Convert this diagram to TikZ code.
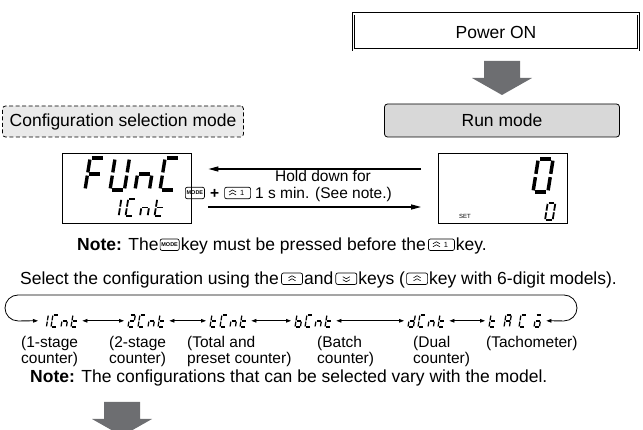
\documentclass[tikz,border=0pt]{standalone}
\usepackage{fontspec}
\setmainfont{Liberation Sans}
\usetikzlibrary{positioning,arrows.meta}
\definecolor{mygrayarrow}{RGB}{109,110,113}
\definecolor{myrunfill}{RGB}{216,216,216}
\definecolor{mycfgfill}{RGB}{234,234,234}

% segments of a seven-segment character, cell 1 wide and 2 high
\def\sga{\draw (0.12,2) -- (0.88,2);}
\def\sgb{\draw (1,1.9) -- (1,1.1);}
\def\sgc{\draw (1,0.9) -- (1,0.1);}
\def\sgd{\draw (0.12,0) -- (0.88,0);}
\def\sge{\draw (0,0.9) -- (0,0.1);}
\def\sgf{\draw (0,1.9) -- (0,1.1);}
\def\sgg{\draw (0.12,1) -- (0.88,1);}
\newcommand{\segword}[4]{% anchor, height, advance, characters
  \foreach \segs [count=\i from 0] in {#4} {
    \begin{scope}[shift={(#1)},xshift=\i*#3,x=#2*0.45pt,y=#2*0.5pt,xslant=0.16,line width=#2*0.105pt]
      \foreach \s in \segs {\csname sg\s\endcsname}
    \end{scope}}}
\newcommand{\blockarrow}[2]{% centre x, top y
  \fill[mygrayarrow] (#1-18,#2) -- (#1+18,#2) -- (#1+18,#2+17) -- (#1+30,#2+17)
    -- (#1,#2+34) -- (#1-30,#2+17) -- (#1-18,#2+17) -- cycle;}

\begin{document}
\begin{tikzpicture}[x=1pt,y=-1pt,
  txt/.style={inner sep=0pt,text height=12.5pt,text depth=0pt,font=\fontsize{17.5}{20}\selectfont},
  smalltxt/.style={inner sep=0pt,text height=11pt,text depth=0pt,font=\fontsize{15.5}{18}\selectfont},
  lbl/.style={inner sep=0pt,align=left,anchor=north west,font=\fontsize{15.5}{16}\selectfont},
  keycap/.style={draw,line width=0.7pt,rounded corners=2pt,minimum height=11.5pt,inner sep=1.3pt,
    font=\fontsize{5.5}{5.5}\selectfont\bfseries},
  chev/.style={line width=0.6pt},
  lcd/.style={draw,line width=0.8pt,minimum width=129pt,minimum height=70pt},
  modebox/.style={draw,line width=0.8pt,minimum height=33pt,font=\fontsize{17.5}{20}\selectfont},
  word/.style={inner sep=0pt,minimum height=12pt,anchor=south west},
  holdarrow/.style={line width=1.3pt,-{Triangle[length=10pt,width=5pt]}},
  swaparrow/.style={line width=0.8pt,{Triangle[length=5pt,width=3.6pt]}-{Triangle[length=5pt,width=3.6pt]}},
]
\useasboundingbox (0,0) rectangle (643,430);

% modes
\node[modebox,double,line width=0.7pt,double distance=1.6pt,minimum width=285pt,minimum height=36pt] (power) at (496,32) {Power ON};
\node[modebox,fill=myrunfill,rounded corners=3pt,minimum width=235pt] (run) at (502,120.5) {Run mode};
\node[modebox,dash pattern=on 4pt off 2.5pt,fill=mycfgfill,rounded corners=3pt,minimum width=241pt,minimum height=31pt] (config) at (123,121.5) {Configuration selection mode};
\blockarrow{502}{61}
\blockarrow{122}{402}

% displays
\node[lcd] (dfunc) at (126.5,188) {};
\node[lcd] (drun) at (503,188) {};
\coordinate (funcbig) at (85,190);
\coordinate (funcsmall) at (111,216);
\coordinate (runbig) at (533,192);
\coordinate (runsmall) at (545,220);
\segword{funcbig}{32}{25}{{a,e,f,g},{b,c,d,e,f},{c,e,g},{a,d,e,f}}
\segword{funcsmall}{17}{14.5}{{b,c},{a,d,e,f},{c,e,g},{d,e,f,g}}
\segword{runbig}{33}{25}{{a,b,c,d,e,f}}
\segword{runsmall}{17}{14.5}{{a,b,c,d,e,f}}
\node[inner sep=0pt,font=\fontsize{6}{6}\selectfont] (set) at (465,216) {SET};

\draw[holdarrow] ([xshift=-17pt,yshift=19pt]drun.west) -- ([xshift=17pt,yshift=19pt]dfunc.east);
\draw[holdarrow] ([xshift=17pt,yshift=-19pt]dfunc.east) -- ([xshift=-17pt,yshift=-19pt]drun.west);
\node[smalltxt,anchor=base] (hold) at (323,181.5) {Hold down for};
\node[keycap,anchor=west] (km1) at (185,193) {MODE};
\node[smalltxt,right=5pt of km1] (plus) {\textbf{+}};
\node[keycap,minimum width=26pt,right=5pt of plus,font=\fontsize{7.5}{7.5}\selectfont] (ka1) {\hspace{9pt}1};
\node[smalltxt,right=4pt of ka1] (holdtime) {1 s min. (See note.)};

% first note
\node[txt,anchor=base west] (note1a) at (77,251) {\textbf{Note:} The};
\node[keycap,right=1pt of note1a] (km2) {MODE};
\node[txt,right=1pt of km2] (note1b) {key must be pressed before the};
\node[keycap,minimum width=26pt,right=2pt of note1b,font=\fontsize{7.5}{7.5}\selectfont] (ka2) {\hspace{9pt}1};
\node[txt,right=1pt of ka2] (note1c) {key.};

% selection line
\node[txt,anchor=base west] (sel1) at (20,285) {Select the configuration using the};
\node[keycap,minimum width=21pt,right=2pt of sel1] (ku1) {};
\node[txt,right=1pt of ku1] (sel2) {and};
\node[keycap,minimum width=21pt,right=2pt of sel2] (kd1) {};
\node[txt,right=1pt of kd1] (sel3) {keys (};
\node[keycap,minimum width=21pt,right=1pt of sel3] (ku2) {};
\node[txt,right=1pt of ku2] (sel4) {key with 6-digit models).};

% chevrons on the keys
\foreach \k/\dx in {ka1/-5,ka2/-5,ku1/0,ku2/0} {
  \draw[chev] ([shift={(\dx pt-3.5pt,1pt)}]\k.center) -- ([shift={(\dx pt,3pt)}]\k.center) -- ([shift={(\dx pt+3.5pt,1pt)}]\k.center);
  \draw[chev] ([shift={(\dx pt-3.5pt,-2pt)}]\k.center) -- ([shift={(\dx pt,0pt)}]\k.center) -- ([shift={(\dx pt+3.5pt,-2pt)}]\k.center);
}
\draw[chev] ([shift={(-3.5pt,-1pt)}]kd1.center) -- ([shift={(0pt,-3pt)}]kd1.center) -- ([shift={(3.5pt,-1pt)}]kd1.center);
\draw[chev] ([shift={(-3.5pt,2pt)}]kd1.center) -- ([shift={(0pt,0pt)}]kd1.center) -- ([shift={(3.5pt,2pt)}]kd1.center);

% configurations
\node[word,minimum width=37pt] (w1) at (41,327) {};
\node[word,minimum width=37pt] (w2) at (128,327) {};
\node[word,minimum width=37pt] (w3) at (210,327) {};
\node[word,minimum width=37pt] (w4) at (295,327) {};
\node[word,minimum width=37pt] (w5) at (408,327) {};
\node[word,minimum width=54pt] (w6) at (489,327) {};
\segword{w1.south west}{12}{10}{{b,c},{a,d,e,f},{c,e,g},{d,e,f,g}}
\segword{w2.south west}{12}{10}{{a,b,d,e,g},{a,d,e,f},{c,e,g},{d,e,f,g}}
\segword{w3.south west}{12}{10}{{d,e,f,g},{a,d,e,f},{c,e,g},{d,e,f,g}}
\segword{w4.south west}{12}{10}{{c,d,e,f,g},{a,d,e,f},{c,e,g},{d,e,f,g}}
\segword{w5.south west}{12}{10}{{b,c,d,e,g},{a,d,e,f},{c,e,g},{d,e,f,g}}
\segword{w6.south west}{12}{15}{{d,e,f,g},{a,b,c,e,f,g},{a,d,e,f},{a,c,d,e,g}}
\foreach \a/\b in {w1/w2,w2/w3,w3/w4,w4/w5,w5/w6}
  \draw[swaparrow,shorten <=4pt,shorten >=4pt] (\a.east) -- (\b.west);
\draw[swaparrow,rounded corners=13pt] ([xshift=3pt]w6.east) -- (577,321) -- (577,295) -- (5,295) -- (5,321) -- ([xshift=-3pt]w1.west);

\node[lbl] (l1) at (21,336) {(1-stage\\counter)};
\node[lbl] (l2) at (109,336) {(2-stage\\counter)};
\node[lbl] (l3) at (187,336) {(Total and\\preset counter)};
\node[lbl] (l4) at (317,336) {(Batch\\counter)};
\node[lbl] (l5) at (413,336) {(Dual\\counter)};
\node[lbl] (l6) at (486,336) {(Tachometer)};

% second note
\node[txt,anchor=base west] (note2) at (30,383) {\textbf{Note:} The configurations that can be selected vary with the model.};
\end{tikzpicture}
\end{document}
